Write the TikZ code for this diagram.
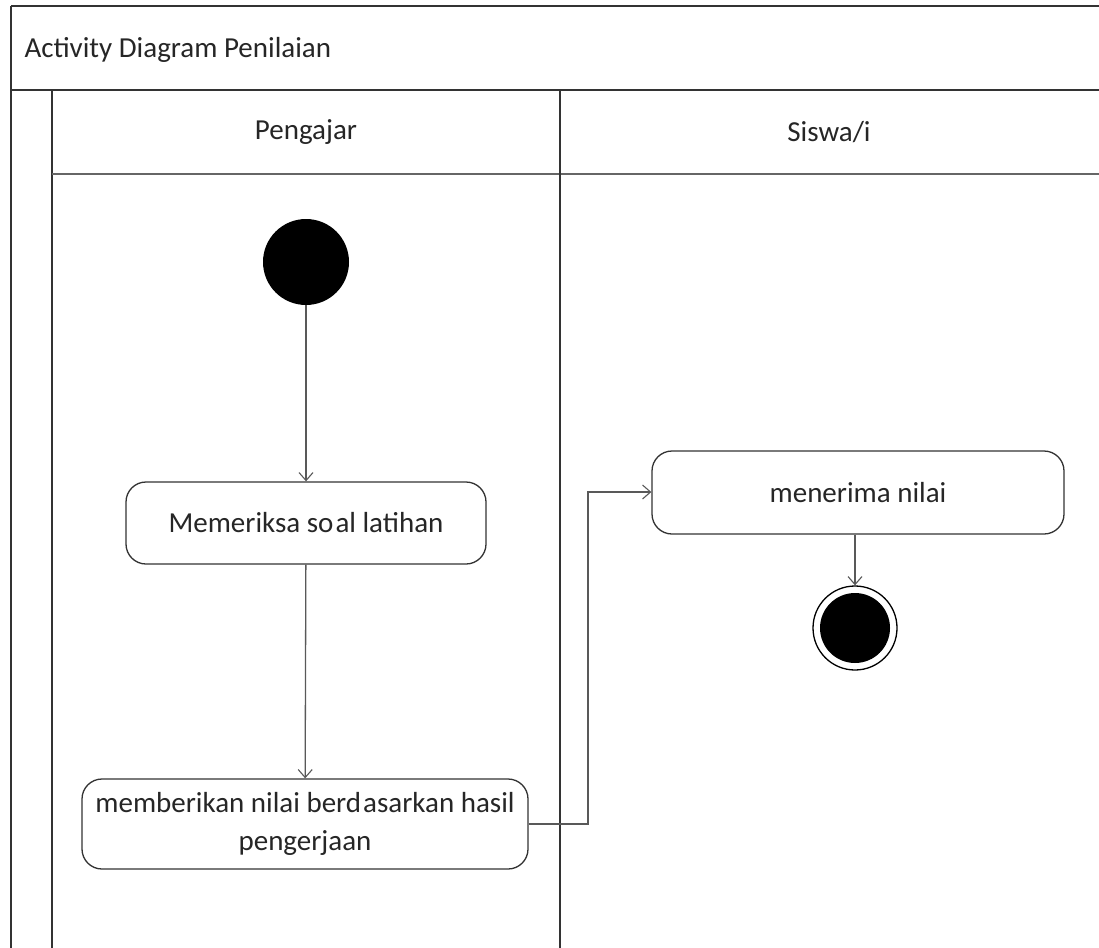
\documentclass[tikz,border=0pt]{standalone}
\usepackage{fontspec}
\setmainfont{Carlito}
\usetikzlibrary{arrows.meta}
\begin{document}
\begin{tikzpicture}[x=1pt,y=-1pt,
  frame/.style={draw=black!80, line width=1.6pt},
  act/.style={draw=black!80, line width=1.3pt, rounded corners=20pt, align=center,
    font=\fontsize{29}{38}\selectfont, text=black!85, inner sep=0pt},
  flow/.style={draw=black!65, line width=1.3pt, -{Straight Barb[length=8pt,width=14pt,line width=1.1pt]}},
  lbl/.style={font=\fontsize{29}{35}\selectfont, text=black!85}]
\useasboundingbox (0,0) rectangle (1099,947);
\fill[white] (0,0) rectangle (1099,947);
\begin{scope}
\clip (0,0) rectangle (1099,947);
% outer frame and lanes
\draw[frame] (11,6) -- (1110,6);
\draw[frame] (11,6) -- (11,960);
\draw[frame] (11,90) -- (1110,90);
\draw[frame] (52,90) -- (52,960);
\draw[frame, draw=black!60] (52,174) -- (1110,174);
\draw[frame] (560,90) -- (560,960);
\end{scope}
\node[lbl, anchor=west] (title) at (21,50) {Activity Diagram Penilaian};
\node[lbl] (laneA) at (306,132) {Pengajar};
\node[lbl] (laneB) at (829,132) {Siswa/i};
% nodes
\node[circle, fill=black, minimum size=86pt, inner sep=0pt] (start) at (306,262) {};
\node[act, minimum width=360pt, minimum height=82pt] (check) at (306,523) {Memeriksa so\kern2pt al latihan};
\node[act, minimum width=446pt, minimum height=90pt] (grade) at (305,824) {memberikan nilai berd\kern2pt asarkan hasil\\pengerjaan};
\node[act, minimum width=412pt, minimum height=83pt] (recv) at (858,492.5) {menerima nilai};
\node[circle, draw=black, line width=1.3pt, minimum size=84pt, inner sep=0pt] (end) at (855,628) {};
\node[circle, fill=black, minimum size=70pt, inner sep=0pt] at (end.center) {};
% flows
\draw[flow] (start) -- (check);
\draw[flow] (check) -- (grade);
\draw[flow] (grade.east) -- (588,824) -- (588,492) -- (recv.west |- 0,492);
\draw[flow] (recv.south -| end.north) -- (end.north);
\end{tikzpicture}
\end{document}
